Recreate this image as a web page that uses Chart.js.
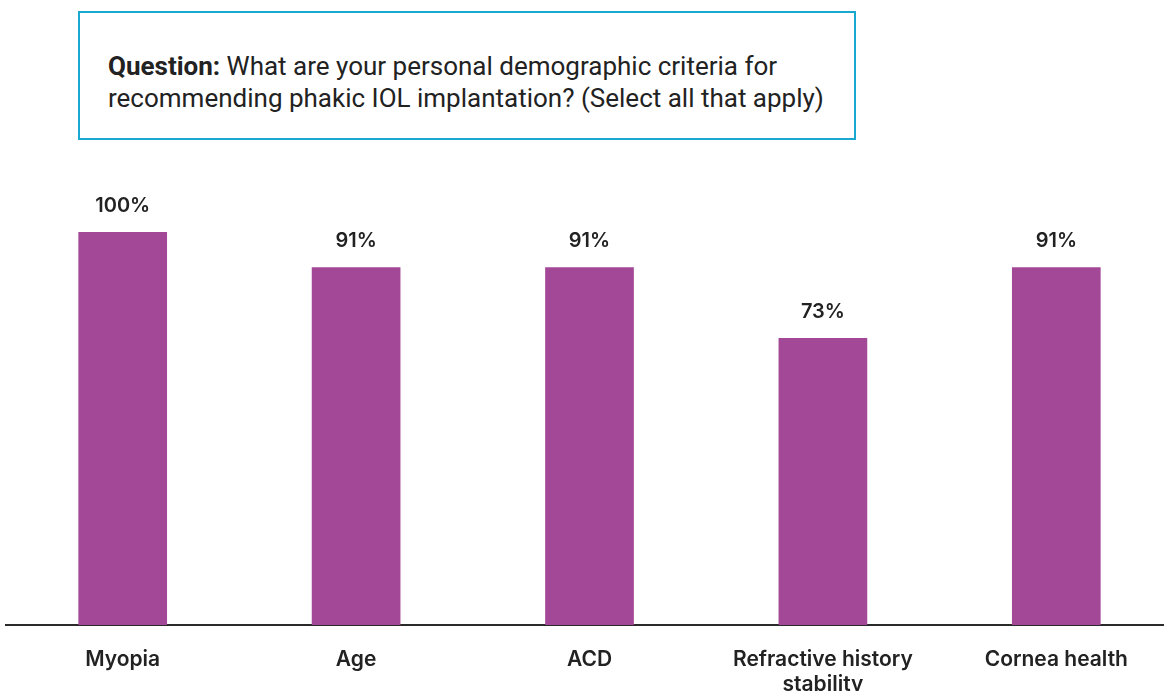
<!DOCTYPE html>
<html>
<head>
<meta charset="utf-8">
<script src="https://cdn.jsdelivr.net/npm/chart.js@4.4.0/dist/chart.umd.min.js"></script>
<style>
  html, body { margin: 0; padding: 0; background: #fff; overflow: hidden; }
  #page { position: relative; width: 1164px; height: 691px; overflow: hidden; }
  #question {
    position: absolute; left: 78px; top: 11px; width: 774px; height: 125px;
    border: 2px solid #1ba8d0; box-sizing: content-box;
    font-family: Roboto, sans-serif; font-size: 26px; line-height: 32px; color: #222;
  }
  #question p { margin: 0; position: absolute; left: 28px; top: 37px; white-space: nowrap; }
  #wrap { position: absolute; left: 0; top: 150px; width: 1180px; height: 541px; }
</style>
</head>
<body>
<div id="page">
  <div id="question"><p><b>Question:</b> What are your personal demographic criteria for<br>recommending phakic IOL implantation? (Select all that apply)</p></div>
  <div id="wrap"><canvas id="chart"></canvas></div>
</div>
<script>
var categories = ['Myopia', 'Age', 'ACD', ['Refractive history', 'stability'], 'Cornea health'];
var percents = [100, 91, 91, 73, 91];

// writes the percentage above every bar
var valueLabels = {
    id: 'valueLabels',
    afterDatasetsDraw: function (chart) {
        var ctx = chart.ctx;
        var meta = chart.getDatasetMeta(0);
        ctx.save();
        ctx.font = '600 20px Inter, sans-serif';
        ctx.fillStyle = '#222';
        ctx.textAlign = 'center';
        ctx.textBaseline = 'middle';
        meta.data.forEach(function (bar, i) {
            ctx.fillText(percents[i] + '%', bar.x, bar.y - 26);
        });
        ctx.restore();
    }
};

var ctx = document.getElementById('chart').getContext('2d');
var chart = new Chart(ctx, {
    type: 'bar',
    data: {
        labels: categories,
        datasets: [{
            data: percents,
            backgroundColor: '#a34797',
            barPercentage: 0.38,
            categoryPercentage: 1
        }]
    },
    options: {
        responsive: true,
        maintainAspectRatio: false,
        animation: false,
        layout: { padding: { left: 6, right: 7, top: 82, bottom: 0 } },
        plugins: { legend: { display: false }, tooltip: { enabled: false } },
        scales: {
            y: { display: false, min: 0, max: 100 },
            x: {
                grid: { display: false, drawTicks: false },
                border: { display: true, color: '#2a2a2a', width: 2 },
                ticks: {
                    color: '#222',
                    padding: 23,
                    maxRotation: 0,
                    autoSkip: false,
                    font: { family: 'Inter, sans-serif', size: 21, weight: '600', lineHeight: 1.15 }
                },
                afterFit: function (scale) { scale.height = 66; }
            }
        }
    },
    plugins: [valueLabels]
});
</script>
</body>
</html>
